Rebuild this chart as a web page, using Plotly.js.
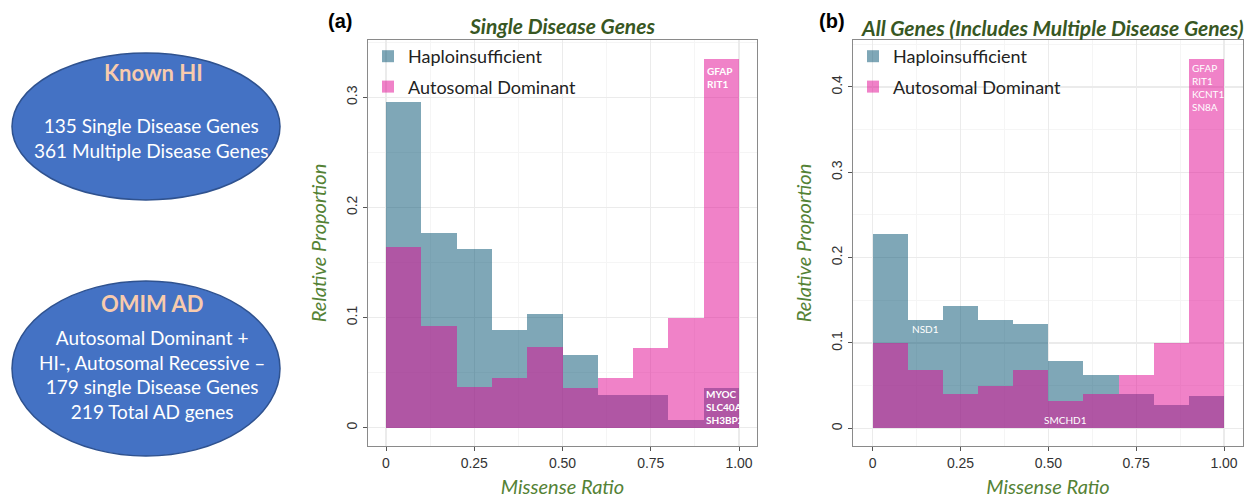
<!DOCTYPE html>
<html>
<head>
<meta charset="utf-8">
<script src="https://cdn.plot.ly/plotly-3.0.1.min.js"></script>
<style>html,body{margin:0;padding:0;background:#fff;} #chart{width:1252px;height:500px;}</style>
</head>
<body>
<div id="chart"></div>
<script>
// Histogram bins (left edges), bin width 0.1
const binStarts = [0, 0.1, 0.2, 0.3, 0.4, 0.5, 0.6, 0.7, 0.8, 0.9];
// (a) Single disease genes
const hiSingle = [0.296, 0.177, 0.162, 0.089, 0.103, 0.066, 0.030, 0.030, 0.007, 0.036];
const adSingle = [0.164, 0.092, 0.037, 0.045, 0.073, 0.036, 0.045, 0.072, 0.100, 0.335];
// (b) All genes
const hiAll = [0.228, 0.127, 0.143, 0.127, 0.122, 0.079, 0.063, 0.040, 0.027, 0.038];
const adAll = [0.100, 0.068, 0.040, 0.050, 0.068, 0.032, 0.040, 0.063, 0.100, 0.433];

const seriesNames = ['Haploinsufficient', 'Autosomal Dominant'];
const xTickVals = [0, 0.25, 0.5, 0.75, 1.0];
const xTickText = ['0', '0.25', '0.50', '0.75', '1.00'];
const panelTitles = ['Single Disease Genes', 'All Genes (Includes Multiple Disease Genes)'];
const panelLabels = ['(a)', '(b)'];
const genesA_top = ['GFAP', 'RIT1'];
const genesA_bottom = ['MYOC', 'SLC40A1', 'SH3BP2'];
const genesB_top = ['GFAP', 'RIT1', 'KCNT1', 'SN8A'];
const genesB_mid = ['NSD1'];
const genesB_low = ['SMCHD1'];

const HI_COLOR = 'rgba(0,79,112,0.5)';
const AD_COLOR = 'rgba(225,5,145,0.5)';

function bar(y, name, color, xa, ya, legend, group) {
  return {
    type: 'bar', x: binStarts, y: y, name: name, width: 0.1, offset: 0,
    marker: {color: color, line: {width: 0}},
    xaxis: xa, yaxis: ya, legend: legend, legendgroup: group, hoverinfo: 'x+y'
  };
}

const data = [
  bar(hiSingle, seriesNames[0], HI_COLOR, 'x', 'y', 'legend', 'a1'),
  bar(adSingle, seriesNames[1], AD_COLOR, 'x', 'y', 'legend', 'a2'),
  bar(hiAll, seriesNames[0], HI_COLOR, 'x2', 'y2', 'legend2', 'b1'),
  bar(adAll, seriesNames[1], AD_COLOR, 'x2', 'y2', 'legend2', 'b2')
];

const W = 1252, H = 500;
const px = v => v / W;
const py = v => 1 - v / H;

const tickFont = {family: 'Liberation Sans, Arial, sans-serif', size: 14, color: '#333'};
const axTitleFont = {family: 'Lato, sans-serif', size: 20, color: '#548235'};

function xaxis(domain, range) {
  return {
    domain: domain, range: range, tickmode: 'array', tickvals: xTickVals, ticktext: xTickText,
    showgrid: true, gridcolor: '#ebebeb', gridwidth: 1.2, zeroline: false,
    minor: {tick0: 0, dtick: 0.125, showgrid: true, gridcolor: '#f5f5f5', gridwidth: 1},
    showline: true, mirror: true, linecolor: '#8a8a8a', linewidth: 1,
    ticks: 'outside', ticklen: 4, tickcolor: '#555', tickfont: tickFont,
    title: {text: '<i>Missense Ratio</i>', font: axTitleFont, standoff: 10},
    fixedrange: true
  };
}
function yaxis(domain, range, anchor) {
  return {
    domain: domain, range: range, anchor: anchor, tick0: 0, dtick: 0.1, tickangle: -90,
    showgrid: true, gridcolor: '#ebebeb', gridwidth: 1.2, zeroline: false,
    minor: {tick0: 0, dtick: 0.05, showgrid: true, gridcolor: '#f5f5f5', gridwidth: 1},
    showline: true, mirror: true, linecolor: '#8a8a8a', linewidth: 1,
    ticks: 'outside', ticklen: 4, tickcolor: '#555', tickfont: tickFont,
    title: {text: '<i>Relative Proportion</i>', font: axTitleFont, standoff: 12},
    fixedrange: true
  };
}

const labelFont = {family: 'Lato, sans-serif', size: 10, color: '#ffffff'};
function pann(x, y, text, font) {
  return {xref: 'paper', yref: 'paper', x: px(x), y: py(y), xanchor: 'center', yanchor: 'middle',
          text: text, showarrow: false, font: font};
}
const panelFont = {family: 'Liberation Sans, Arial', size: 20, color: '#000'};
const titleFont = {family: 'Lato, sans-serif', size: 21, color: '#385723'};
const ellHead = {family: 'Lato, sans-serif', size: 22, color: '#F8CBAD'};
const ellBody = {family: 'Lato, sans-serif', size: 19, color: '#ffffff'};

const annotations = [
  pann(340, 21, '<b>' + panelLabels[0] + '</b>', panelFont),
  pann(832, 21, '<b>' + panelLabels[1] + '</b>', panelFont),
  pann(562, 25, '<b><i>' + panelTitles[0] + '</i></b>', titleFont),
  pann(1052, 27, '<b><i>' + panelTitles[1] + '</i></b>', titleFont),
  // gene labels panel a
  {xref: 'x', yref: 'y', x: binStarts[9], y: adSingle[9], xanchor: 'left', yanchor: 'top', xshift: 1, yshift: -4, align: 'left',
   text: '<b>' + genesA_top.join('<br>') + '</b>', showarrow: false, font: labelFont},
  {xref: 'x', yref: 'y', x: binStarts[9], y: 0, xanchor: 'left', yanchor: 'bottom', xshift: 0, yshift: 0, align: 'left',
   text: '<b>' + genesA_bottom.join('<br>') + '</b>', showarrow: false, font: labelFont},
  // gene labels panel b
  {xref: 'x2', yref: 'y2', x: binStarts[9], y: adAll[9], xanchor: 'left', yanchor: 'top', xshift: 1, yshift: -1, align: 'left',
   text: genesB_top.join('<br>'), showarrow: false, font: labelFont},
  {xref: 'x2', yref: 'y2', x: binStarts[1] + 0.05, y: hiAll[1], xanchor: 'center', yanchor: 'top', yshift: -1,
   text: genesB_mid[0], showarrow: false, font: labelFont},
  {xref: 'x2', yref: 'y2', x: binStarts[5] + 0.05, y: 0, xanchor: 'center', yanchor: 'bottom', yshift: 0,
   text: genesB_low[0], showarrow: false, font: labelFont},
  // ellipse texts
  pann(153, 72, '<b>Known HI</b>', ellHead),
  pann(151, 138, '135 Single Disease Genes<br>361 Multiple Disease Genes', ellBody),
  pann(152, 303, '<b>OMIM AD</b>', ellHead),
  pann(152, 374, 'Autosomal Dominant +<br>HI-, Autosomal Recessive \u2013<br>179 single Disease Genes<br>219 Total AD genes', ellBody)
];

const shapes = [
  {type: 'circle', xref: 'paper', yref: 'paper', x0: px(12), x1: px(280), y0: py(200), y1: py(53), fillcolor: '#4472C4', line: {color: '#2F528F', width: 1.5}, layer: 'below'},
  {type: 'circle', xref: 'paper', yref: 'paper', x0: px(12), x1: px(280), y0: py(456), y1: py(281), fillcolor: '#4472C4', line: {color: '#2F528F', width: 1.5}, layer: 'below'}
];

const legendBase = {
  bgcolor: 'rgba(255,255,255,0)', borderwidth: 0, xanchor: 'left', yanchor: 'top',
  font: {family: 'Lato, sans-serif', size: 18, color: '#222'}, traceorder: 'grouped', tracegroupgap: 4
};

const layout = {
  width: W, height: H,
  margin: {l: 0, r: 0, t: 0, b: 0},
  paper_bgcolor: '#fff', plot_bgcolor: '#fff',
  barmode: 'overlay', bargap: 0,
  showlegend: true,
  xaxis: xaxis([px(368), px(757)], [-0.051, 1.051]),
  yaxis: yaxis([py(446), py(40)], [-0.0165, 0.352], 'x'),
  xaxis2: Object.assign(xaxis([px(853), px(1243)], [-0.056, 1.054]), {anchor: 'y2'}),
  yaxis2: yaxis([py(446), py(40)], [-0.0207, 0.455], 'x2'),
  legend: Object.assign({x: px(368), y: py(38)}, legendBase),
  legend2: Object.assign({x: px(853), y: py(38)}, legendBase),
  annotations: annotations,
  shapes: shapes
};

Plotly.newPlot('chart', data, layout, {displayModeBar: false, staticPlot: true});
</script>
</body>
</html>
